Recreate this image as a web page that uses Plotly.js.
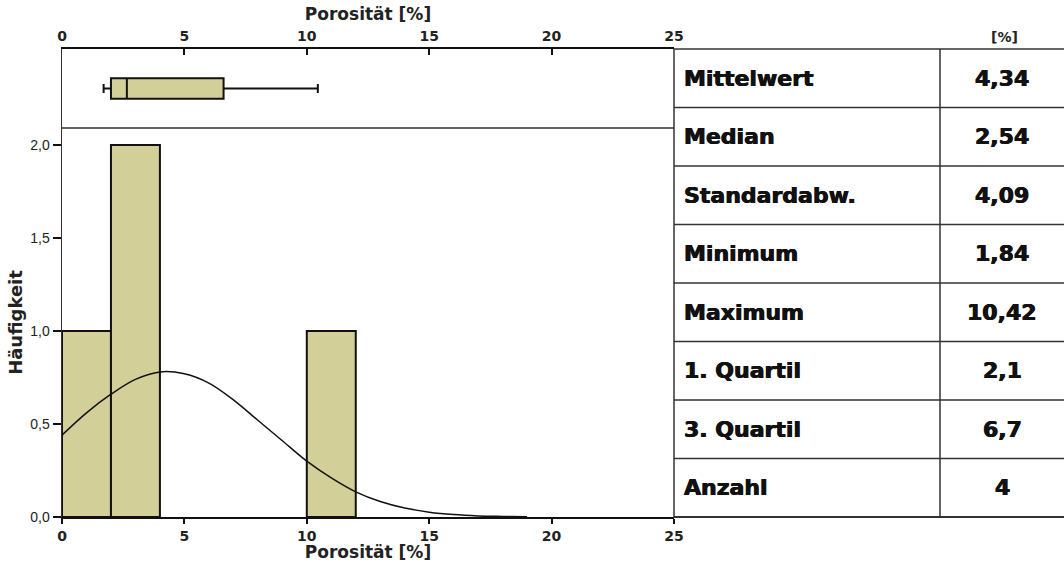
<!DOCTYPE html>
<html>
<head>
<meta charset="utf-8">
<script src="https://cdn.plot.ly/plotly-3.0.1.min.js"></script>
<style>html,body{margin:0;padding:0;background:#fff;}#chart{width:1064px;height:562px;}</style>
</head>
<body>
<div id="chart"></div>
<script>
// ---- data ----
const binStart = [0, 2, 10];
const binCount = [1, 2, 1];
const binWidth = 2;

const curveX = [0, 1, 2, 3, 4, 5, 6, 7, 8, 9, 10, 11, 12, 13, 14, 15, 16, 17, 18, 19];
const curveY = [0.44, 0.56, 0.66, 0.74, 0.78, 0.77, 0.72, 0.63, 0.52, 0.41, 0.30, 0.21, 0.135, 0.083, 0.048, 0.026, 0.013, 0.006, 0.003, 0.001];

const boxLow = [1.7];
const boxQ1 = [2.0];
const boxMedian = [2.65];
const boxQ3 = [6.6];
const boxHigh = [10.45];

const statLabels = ["Mittelwert", "Median", "Standardabw.", "Minimum", "Maximum", "1. Quartil", "3. Quartil", "Anzahl"];
const statValues = ["4,34", "2,54", "4,09", "1,84", "10,42", "2,1", "6,7", "4"];
const statUnit = "[%]";

const xTitle = "Porosität [%]";
const yTitle = "Häufigkeit";

// ---- layout geometry (pixels) ----
const W = 1064, H = 562;
const L = 62, R = 674, T = 49, B = 517;
const SPLIT = 128;          // line between box panel and histogram
const COL = 940;            // table column divider
const px = x => (x - L) / (R - L);
const py = y => (B - y) / (B - T);

const fill = "rgb(211,207,153)";
const dark = "#222";
const heavy = "0.45px 0 0 #111, -0.45px 0 0 #111";
const boldFont = {family: "DejaVu Sans", size: 14, color: dark, weight: "bold"};
const titleFont = {family: "DejaVu Sans", size: 17, color: dark, weight: "bold"};

const traces = [
  {
    type: "bar",
    x: binStart.map(s => s + binWidth / 2),
    y: binCount,
    width: binStart.map(() => binWidth),
    marker: {color: fill, line: {color: "#111", width: 2}},
    xaxis: "x", yaxis: "y",
    hoverinfo: "x+y"
  },
  {
    type: "scatter", mode: "lines",
    x: curveX, y: curveY,
    line: {color: "#111", width: 1.5, shape: "spline", smoothing: 1},
    xaxis: "x", yaxis: "y"
  },
  {
    type: "box", orientation: "h",
    y: [0],
    q1: boxQ1, median: boxMedian, q3: boxQ3,
    lowerfence: boxLow, upperfence: boxHigh,
    width: 0.52, whiskerwidth: 0.45,
    fillcolor: fill,
    line: {color: "#111", width: 2},
    xaxis: "x2", yaxis: "y2"
  }
];

const shapes = [];
const lineC = "#333";
function seg(x0, y0, x1, y1, w) {
  shapes.push({type: "line", xref: "paper", yref: "paper",
    x0: px(x0), y0: py(y0), x1: px(x1), y1: py(y1),
    line: {color: lineC, width: w || 1.5}});
}
// panel separator and right border
seg(L, SPLIT, R, SPLIT, 1.5);
seg(R, T, R, B, 1.5);
// table frame
seg(R, T, W, T, 1.5);
seg(R, B, W, B, 2);
seg(COL, T, COL, B, 1.5);
const rowH = (B - T) / statLabels.length;
for (let i = 1; i < statLabels.length; i++) seg(R, T + i * rowH, W, T + i * rowH, 1.5);

const annotations = [];
const tableFont = {family: "DejaVu Sans", size: 22, color: "#111", weight: "bold", shadow: heavy};
statLabels.forEach((lab, i) => {
  const yc = T + (i + 0.5) * rowH;
  annotations.push({xref: "paper", yref: "paper", x: px(682), y: py(yc), xanchor: "left", yanchor: "middle",
    text: lab, showarrow: false, font: tableFont});
  annotations.push({xref: "paper", yref: "paper", x: px(1002), y: py(yc), xanchor: "center", yanchor: "middle",
    text: statValues[i], showarrow: false, font: tableFont});
});
annotations.push({xref: "paper", yref: "paper", x: px(1004), y: py(37), xanchor: "center", yanchor: "middle",
  text: statUnit, showarrow: false, font: {family: "DejaVu Sans", size: 14, color: dark, weight: "bold"}});

const layout = {
  width: W, height: H,
  margin: {l: L, r: W - R, t: T, b: H - B, pad: 0},
  paper_bgcolor: "#fff", plot_bgcolor: "#fff",
  separators: ",.",
  showlegend: false,
  bargap: 0,
  xaxis: {
    domain: [0, 1], anchor: "y", range: [0, 25], tickvals: [0, 5, 10, 15, 20, 25],
    ticks: "outside", ticklen: 5, tickwidth: 2, tickcolor: "#111",
    showline: true, linecolor: "#111", linewidth: 2, showgrid: false, zeroline: false,
    tickfont: boldFont,
    title: {text: xTitle, font: titleFont, standoff: 0}
  },
  yaxis: {
    domain: [0, py(SPLIT)], anchor: "x", range: [0, (B - SPLIT) / ((B - 145) / 2)],
    tickvals: [0, 0.5, 1, 1.5, 2], tickformat: ".1f",
    ticks: "outside", ticklen: 8, tickwidth: 1.5, tickcolor: "#111",
    showline: true, linecolor: "#333", linewidth: 1.5, showgrid: false, zeroline: false,
    tickfont: {family: "Liberation Sans", size: 14, color: dark},
    title: {text: yTitle, font: {family: "DejaVu Sans", size: 18, color: dark, weight: "bold"}, standoff: 3}
  },
  xaxis2: {
    domain: [0, 1], anchor: "y2", side: "top", range: [0, 25], tickvals: [0, 5, 10, 15, 20, 25],
    ticks: "inside", ticklen: 6, tickwidth: 2, tickcolor: "#111",
    showline: true, linecolor: "#111", linewidth: 2, showgrid: false, zeroline: false,
    tickfont: boldFont,
    title: {text: xTitle, font: titleFont, standoff: 3}
  },
  yaxis2: {
    domain: [py(SPLIT), 1], anchor: "x2", range: [-1, 1],
    showline: true, linecolor: "#333", linewidth: 1.5, showticklabels: false, ticks: "",
    showgrid: false, zeroline: false
  },
  shapes: shapes,
  annotations: annotations
};

Plotly.newPlot("chart", traces, layout, {displayModeBar: false, staticPlot: true});
</script>
</body>
</html>
